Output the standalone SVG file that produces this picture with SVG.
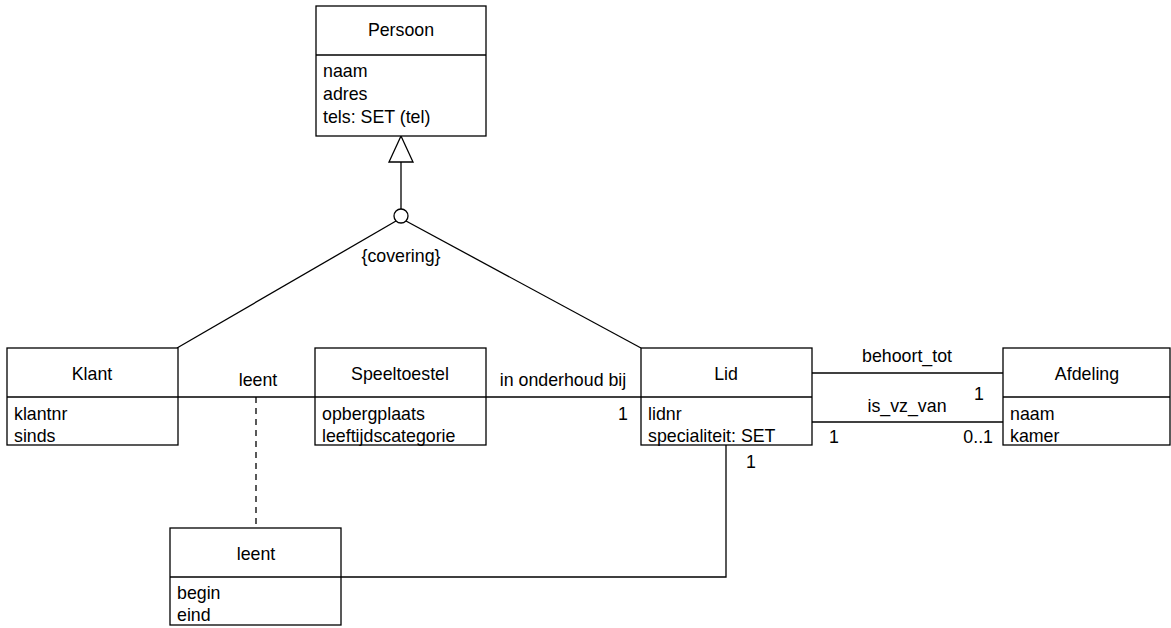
<svg xmlns="http://www.w3.org/2000/svg" width="1171" height="628" viewBox="0 0 1171 628">
<style>
.box{fill:#fff;stroke:#000;stroke-width:1.3}
.ln{fill:none;stroke:#000;stroke-width:1.3}
text{font-family:"Liberation Sans",Arial,sans-serif;font-size:17.8px;fill:#000}
.c{text-anchor:middle}
.r{text-anchor:end}
</style>
<rect width="1171" height="628" fill="#fff"/>
<g id="connectors">
<line class="ln" x1="401" y1="162" x2="401" y2="210"/>
<polygon class="box" points="401,136 389,162 413,162"/>
<line class="ln" x1="396" y1="221" x2="177" y2="348"/>
<line class="ln" x1="406" y1="221" x2="641" y2="348"/>
<circle class="box" cx="401" cy="216" r="7"/>
<text class="c" x="401" y="262">{covering}</text>
<line class="ln" x1="178" y1="397" x2="315" y2="397"/>
<text class="c" x="258" y="386">leent</text>
<line class="ln" x1="256" y1="397" x2="256" y2="528" stroke-dasharray="6,5"/>
<line class="ln" x1="486" y1="397" x2="641" y2="397"/>
<text class="c" x="563" y="386">in onderhoud bij</text>
<text x="618" y="420">1</text>
<polyline class="ln" points="341,577 726,577 726,445"/>
<text x="746" y="468">1</text>
<line class="ln" x1="812" y1="373" x2="1003" y2="373"/>
<text class="c" x="907" y="362">behoort_tot</text>
<text x="974" y="400">1</text>
<line class="ln" x1="812" y1="422" x2="1003" y2="422"/>
<text class="c" x="907" y="412">is_vz_van</text>
<text x="829" y="443">1</text>
<text class="r" x="993" y="443">0..1</text>
</g>
<g id="persoon">
<rect class="box" x="316" y="6" width="170" height="130"/>
<line class="ln" x1="316" y1="55" x2="486" y2="55"/>
<text class="c" x="401" y="36">Persoon</text>
<text x="323" y="77">naam</text>
<text x="323" y="100">adres</text>
<text x="323" y="123">tels: SET (tel)</text>
</g>
<g id="klant">
<rect class="box" x="7" y="348" width="171" height="97"/>
<line class="ln" x1="7" y1="397" x2="178" y2="397"/>
<text class="c" x="92" y="380">Klant</text>
<text x="14" y="420">klantnr</text>
<text x="14" y="442">sinds</text>
</g>
<g id="speeltoestel">
<rect class="box" x="315" y="348" width="171" height="97"/>
<line class="ln" x1="315" y1="397" x2="486" y2="397"/>
<text class="c" x="400" y="380">Speeltoestel</text>
<text x="322" y="420">opbergplaats</text>
<text x="322" y="442">leeftijdscategorie</text>
</g>
<g id="lid">
<rect class="box" x="641" y="348" width="171" height="97"/>
<line class="ln" x1="641" y1="397" x2="812" y2="397"/>
<text class="c" x="726" y="380">Lid</text>
<text x="648" y="420">lidnr</text>
<text x="648" y="442">specialiteit: SET</text>
</g>
<g id="afdeling">
<rect class="box" x="1003" y="348" width="167" height="97"/>
<line class="ln" x1="1003" y1="397" x2="1170" y2="397"/>
<text class="c" x="1087" y="380">Afdeling</text>
<text x="1010" y="420">naam</text>
<text x="1010" y="442">kamer</text>
</g>
<g id="leent">
<rect class="box" x="170" y="528" width="171" height="97"/>
<line class="ln" x1="170" y1="577" x2="341" y2="577"/>
<text class="c" x="256" y="560">leent</text>
<text x="177" y="599">begin</text>
<text x="177" y="621">eind</text>
</g>
</svg>
